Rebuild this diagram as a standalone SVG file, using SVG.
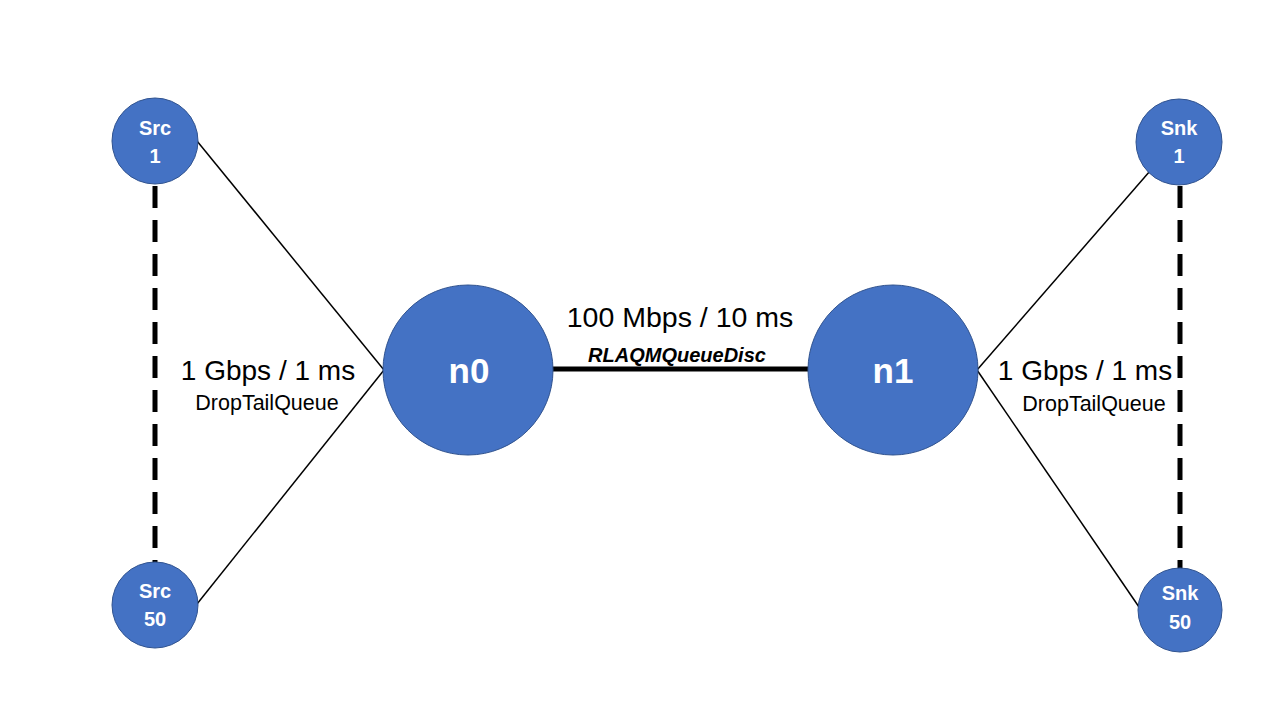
<svg xmlns="http://www.w3.org/2000/svg" width="1280" height="720" viewBox="0 0 1280 720">
<style>
.node{fill:#4472C4;stroke:#2F528F;stroke-width:1}
.lbl{fill:#fff;font-family:"Liberation Sans",Arial,sans-serif;font-weight:bold;text-anchor:middle}
.sm{font-size:20px}
.big{font-size:35px}
.link{stroke:#000;stroke-width:1.5;fill:none}
.dash{stroke:#000;stroke-width:5;stroke-dasharray:22 12;fill:none}
.txt{fill:#000;font-family:"Liberation Sans",Arial,sans-serif;text-anchor:middle}
</style>
<rect width="1280" height="720" fill="#fff"/>
<g id="connectors">
<line class="link" x1="197" y1="141" x2="384" y2="370"/>
<line class="link" x1="197" y1="604" x2="384" y2="370"/>
<line class="link" x1="977" y1="370" x2="1150" y2="171"/>
<line class="link" x1="977" y1="370" x2="1139" y2="607"/>
<line x1="552" y1="369" x2="808" y2="369" stroke="#000" stroke-width="5"/>
<line class="dash" x1="155" y1="186" x2="155" y2="563"/>
<line class="dash" x1="1180" y1="186" x2="1180" y2="569"/>
</g>
<g id="labels">
<text class="txt" x="680" y="327" font-size="28.5">100 Mbps / 10 ms</text>
<text class="txt" x="677" y="362" font-size="20" font-weight="bold" font-style="italic">RLAQMQueueDisc</text>
<text class="txt" x="268" y="380" font-size="28">1 Gbps / 1 ms</text>
<text class="txt" x="267" y="410" font-size="21.5">DropTailQueue</text>
<text class="txt" x="1085" y="380" font-size="28">1 Gbps / 1 ms</text>
<text class="txt" x="1094" y="411" font-size="21.5">DropTailQueue</text>
</g>
<g id="src1"><circle class="node" cx="155" cy="141" r="43"/><text class="lbl sm" x="155" y="135">Src</text><text class="lbl sm" x="155" y="163">1</text></g>
<g id="src50"><circle class="node" cx="155" cy="605" r="43"/><text class="lbl sm" x="155" y="598">Src</text><text class="lbl sm" x="155" y="626">50</text></g>
<g id="n0"><circle class="node" cx="468" cy="370" r="85"/><text class="lbl big" x="469" y="383">n0</text></g>
<g id="n1"><circle class="node" cx="893" cy="370" r="85"/><text class="lbl big" x="893" y="383">n1</text></g>
<g id="snk1"><circle class="node" cx="1179" cy="142" r="43"/><text class="lbl sm" x="1179" y="135">Snk</text><text class="lbl sm" x="1179" y="163">1</text></g>
<g id="snk50"><circle class="node" cx="1180" cy="610" r="42"/><text class="lbl sm" x="1180" y="600">Snk</text><text class="lbl sm" x="1180" y="629">50</text></g>
</svg>
